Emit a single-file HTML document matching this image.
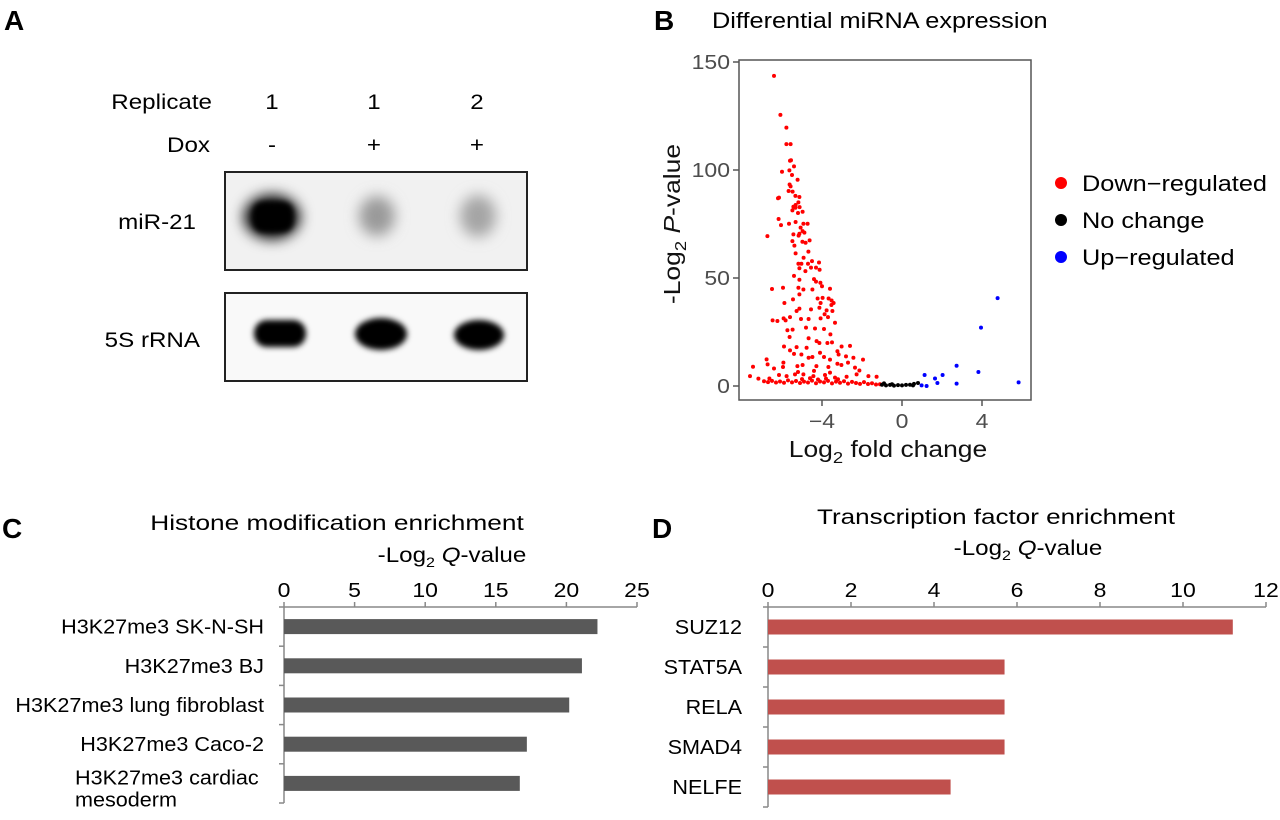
<!DOCTYPE html>
<html><head><meta charset="utf-8"><style>
html,body{margin:0;padding:0;background:#fff;}
svg{display:block;font-family:"Liberation Sans",Arial,sans-serif;}
</style></head><body>
<svg id="fig" width="1280" height="820" viewBox="0 0 1280 820" xmlns="http://www.w3.org/2000/svg">
<defs>
<filter id="blur3" x="-50%" y="-50%" width="200%" height="200%"><feGaussianBlur stdDeviation="3"/></filter>
<filter id="blur6" x="-50%" y="-50%" width="200%" height="200%"><feGaussianBlur stdDeviation="7"/></filter>
</defs>
<!-- Panel A -->
<g>
<text x="4" y="30" font-size="28" font-weight="bold">A</text>
<text x="212" y="109" font-size="21" text-anchor="end">Replicate</text>
<text x="272" y="109" font-size="21" text-anchor="middle">1</text>
<text x="374" y="109" font-size="21" text-anchor="middle">1</text>
<text x="477" y="109" font-size="21" text-anchor="middle">2</text>
<text x="210" y="152" font-size="21" text-anchor="end">Dox</text>
<text x="272" y="152" font-size="21" text-anchor="middle">-</text>
<text x="374" y="152" font-size="21" text-anchor="middle">+</text>
<text x="477" y="152" font-size="21" text-anchor="middle">+</text>
<text x="196" y="229" font-size="21" text-anchor="end">miR-21</text>
<text x="200" y="347" font-size="21" text-anchor="end">5S rRNA</text>
<g>
<rect x="225" y="172" width="302" height="98" fill="#f1f1f1"/>
<ellipse cx="272" cy="217" rx="28" ry="22" fill="#000" filter="url(#blur6)"/>
<rect x="253" y="202" width="40" height="30" rx="10" fill="#000" filter="url(#blur3)"/>
<ellipse cx="377" cy="216" rx="18" ry="20" fill="#9a9a9a" filter="url(#blur6)"/>
<ellipse cx="478" cy="216" rx="18" ry="21" fill="#a5a5a5" filter="url(#blur6)"/>
<rect x="225" y="172" width="302" height="98" fill="none" stroke="#222" stroke-width="2"/>
</g>
<g>
<rect x="225" y="293" width="302" height="88" fill="#f9f9f9"/>
<rect x="254" y="320" width="52" height="27" rx="13" fill="#000" filter="url(#blur3)"/>
<ellipse cx="381" cy="334" rx="26" ry="16" fill="#000" filter="url(#blur3)"/>
<ellipse cx="479" cy="335" rx="25" ry="15" fill="#000" filter="url(#blur3)"/>
<rect x="225" y="293" width="302" height="88" fill="none" stroke="#222" stroke-width="2"/>
</g>
</g>
<!-- Panel B -->
<g id="panelB">
<text x="654" y="30" font-size="28" font-weight="bold">B</text>
<text x="712" y="28" font-size="22">Differential miRNA expression</text>
<rect x="739" y="60" width="292" height="340" fill="none" stroke="#555" stroke-width="1.5"/>
<text transform="translate(680,224) rotate(-90)" font-size="23" text-anchor="middle" fill="#111">-Log<tspan font-size="16" dy="6">2</tspan><tspan dy="-6"> </tspan><tspan font-style="italic">P</tspan>-value</text>
<text x="888" y="457" font-size="23" text-anchor="middle" fill="#111">Log<tspan font-size="16" dy="6">2</tspan><tspan dy="-6"> fold change</tspan></text>
<g>
<circle cx="1061" cy="183" r="6" fill="#ff0000"/>
<text x="1082" y="191" font-size="22">Down−regulated</text>
<circle cx="1061" cy="220" r="6" fill="#000"/>
<text x="1082" y="228" font-size="22">No change</text>
<circle cx="1061" cy="257" r="6" fill="#0000ff"/>
<text x="1082" y="265" font-size="22">Up−regulated</text>
</g>
</g>
<!-- Panel C -->
<g id="panelC">
<text x="2" y="538" font-size="28" font-weight="bold">C</text>
<text x="337" y="530" font-size="21" text-anchor="middle" data-stretch="1.25">Histone modification enrichment</text>
<text x="452" y="562" font-size="21" text-anchor="middle">-Log<tspan font-size="14" dy="5">2</tspan><tspan dy="-5"> </tspan><tspan font-style="italic">Q</tspan>-value</text>
</g>
<!-- Panel D -->
<g id="panelD">
<text x="652" y="538" font-size="28" font-weight="bold">D</text>
<text x="996" y="524" font-size="21" text-anchor="middle" data-stretch="1.24">Transcription factor enrichment</text>
<text x="1028" y="555" font-size="21" text-anchor="middle">-Log<tspan font-size="14" dy="5">2</tspan><tspan dy="-5"> </tspan><tspan font-style="italic">Q</tspan>-value</text>
</g>
</svg>
<script>
// ---- Panel B data ----
const downFC = [-6.4,-6.08,-5.78,-5.78,-5.57,-5.6,-5.55,-5.4,-6.0,-5.63,-5.5,-5.22,-5.62,-5.57,-5.67,-5.47,-5.33,-5.13,-6.2,-6.15,-5.18,-5.32,-5.12,-5.43,-5.33,-5.48,-5.2,-4.97,-6.17,-6.05,-5.65,-5.32,-4.93,-4.72,-5.07,-4.97,-5.13,-4.88,-5.43,-5.17,-4.62,-5.48,-4.98,-4.82,-5.38,-6.73,-4.68,-5.32,-4.92,-4.5,-4.15,-5.18,-5.03,-4.7,-4.55,-4.83,-5.13,-4.3,-4.12,-5.4,-5.13,-4.4,-4.3,-4.08,-4.0,-3.6,-6.5,-5.95,-5.18,-4.93,-4.48,-5.45,-5.13,-4.22,-3.97,-3.67,-3.52,-5.88,-4.07,-3.53,-3.42,-5.13,-4.55,-4.13,-3.77,-3.48,-3.87,-5.27,-5.6,-6.47,-6.23,-5.92,-5.82,-5.05,-4.67,-4.07,-3.7,-5.73,-5.47,-4.8,-4.35,-3.9,-3.35,-3.58,-4.27,-4.13,-3.73,-3.5,-5.62,-4.67,-5.9,-5.27,-5.6,-4.77,-3.02,-2.6,-3.23,-5.4,-5.03,-4.1,-3.17,-2.8,-2.43,-1.95,-6.77,-5.93,-4.67,-4.48,-3.9,-3.6,-3.23,-2.7,-7.45,-6.72,-6.4,-5.95,-5.23,-4.97,-4.28,-3.68,-3.03,-2.35,-2.13,-7.6,-7.18,-6.63,-6.15,-5.77,-5.35,-4.93,-4.43,-3.85,-3.35,-2.77,-2.27,-1.68,-1.27,-6.9,-6.7,-6.5,-6.3,-6.1,-5.9,-5.7,-5.5,-5.3,-5.1,-4.9,-4.7,-4.5,-4.3,-4.1,-3.9,-3.7,-3.5,-3.3,-3.1,-2.9,-2.7,-2.5,-2.3,-2.1,-1.9,-1.7,-1.5,-1.3,-1.1,-5.0,-4.6,-4.2,-3.8,-5.2,-4.4,-3.6,-3.2];
const downP = [143.6,125.5,119.6,112,112,104.3,104.5,101.7,99.2,99.8,97.7,95.5,93.3,92.4,90.3,90,88,87.5,86.9,87.2,85,83.8,82.8,83,82.5,81.3,80.1,80.7,77.3,74.5,75.1,75.9,75.1,75.1,73.3,71.7,70.5,71,70.2,69.6,67.4,67.1,66.8,66.3,65,69.4,62.2,61.4,59.4,57.8,57.2,56.6,56.6,56.6,54.8,53.2,54.5,54.8,53.8,51,49.2,49.5,48.3,47.8,46.2,45,44.9,45.5,45.5,44.7,44.7,40.1,42.4,40.5,40.8,40.5,39.6,38.4,38.4,37.5,38.4,35.8,35.5,36.2,35,34.7,33.2,34.7,31.9,30.4,30.1,31.3,30.4,31,31,31.3,31.9,25.8,26.1,27,26.6,26.4,29.3,23.9,20.8,19.9,19.9,20.2,22.7,22.1,18.3,18,16.5,17.7,18.3,18.6,16.1,14.9,14.6,15.4,14.6,13.7,13.1,12.2,12.3,10.8,13.1,13.4,13.4,12.2,10.3,10.8,8.9,10,8.1,8.8,9.2,9.7,9.2,8.8,9.7,8.5,7.2,4.6,3.4,3.5,5.1,4.6,5.4,5.4,4.6,5.1,3.9,4.3,5.4,4.6,4.3,2.2,1.8,2.4,1.6,2.1,1.5,2.6,1.7,2.3,1.4,2.0,1.6,2.5,1.3,2.1,1.7,2.4,1.2,2.0,1.5,2.2,1.1,1.9,1.4,1.0,1.8,0.9,1.3,0.7,0.8,3.2,3.6,3.0,3.4,6.5,7.0,6.2,3.1];
const noneFC = [-1.0,-0.8,-0.6,-0.4,-0.2,0,0.2,0.4,0.6,0.8,0.55,-0.9,-0.5];
const noneP = [0.6,0.3,0.5,0.2,0.4,0.3,0.5,0.6,1.0,1.4,0.3,1.2,0.8];
const upFC = [1.13,1.65,2.03,2.73,3.82,3.95,4.78,5.83,2.73,1.77,1.23,0.98];
const upP = [5.1,3.5,5.1,9.4,6.5,27,40.7,1.7,1.1,1.4,0,0.3];
const bYTicks = [0,50,100,150];
const bXTicks = [-4,0,4];
const bXTickLabels = ["−4","0","4"];

// ---- Panel C data ----
const histCats = ["H3K27me3 SK-N-SH","H3K27me3 BJ","H3K27me3 lung fibroblast","H3K27me3 Caco-2","H3K27me3 cardiac|mesoderm"];
const histVals = [22.2,21.1,20.2,17.2,16.7];
const histTicks = [0,5,10,15,20,25];

// ---- Panel D data ----
const tfCats = ["SUZ12","STAT5A","RELA","SMAD4","NELFE"];
const tfVals = [11.2,5.7,5.7,5.7,4.4];
const tfTicks = [0,2,4,6,8,10,12];

const NS="http://www.w3.org/2000/svg";
function mk(tag, attrs, parent){const e=document.createElementNS(NS,tag);for(const k in attrs)e.setAttribute(k,attrs[k]);parent.appendChild(e);return e;}

// Panel B
(function(){
  const g=document.getElementById('panelB');
  const xs=v=>902+20*v, ys=v=>386-2.16*v;
  bYTicks.forEach(t=>{
    const l=mk('line',{x1:733,x2:739,y1:ys(t),y2:ys(t),stroke:'#555','stroke-width':1.5},g);
    
    
    const tx=mk('text',{x:730,y:ys(t)+7,'font-size':20,'text-anchor':'end',fill:'#4d4d4d'},g);
    tx.textContent=t;
    
    
  });
  bXTicks.forEach((t,i)=>{
    const l=mk('line',{x1:xs(t),x2:xs(t),y1:400,y2:406,stroke:'#555','stroke-width':1.5},g);
    
    
    const tx=mk('text',{x:xs(t),y:428,'font-size':20,'text-anchor':'middle',fill:'#4d4d4d'},g);
    tx.textContent=bXTickLabels[i];
    
    
  });
  const groups=[[downFC,downP,'#ff0000','down'],[noneFC,noneP,'#000000','nochange'],[upFC,upP,'#0000ff','up']];
  groups.forEach(([fx,py,col,nm])=>{
    fx.forEach((v,i)=>{
      const c=mk('circle',{cx:xs(v),cy:ys(py[i]),r:2,fill:col},g);
      
      
    });
  });
})();

function barChart(gid, cats, vals, ticks, x0, x1, axisY, step, barH, color, labelRight, prefix){
  const g=document.getElementById(gid);
  const max=ticks[ticks.length-1];
  const xs=v=>x0+(x1-x0)*v/max;
  const n=cats.length;
  const bottom=axisY+step*n;
  const ax=mk('line',{x1:x0,x2:x1,y1:axisY,y2:axisY,stroke:'#888','stroke-width':1.5},g);
  
  
  const ay=mk('line',{x1:x0,x2:x0,y1:axisY,y2:bottom,stroke:'#888','stroke-width':1.5},g);
  
  
  ticks.forEach(t=>{
    const l=mk('line',{x1:xs(t),x2:xs(t),y1:axisY-5,y2:axisY,stroke:'#888','stroke-width':1.5},g);
    
    
    const tx=mk('text',{x:xs(t),y:axisY-10,'font-size':20,'text-anchor':'middle'},g);
    tx.textContent=t;
    
    
  });
  for(let i=0;i<=n;i++){
    const l=mk('line',{x1:x0-5,x2:x0,y1:axisY+step*i,y2:axisY+step*i,stroke:'#888','stroke-width':1.5},g);
    
    
  }
  cats.forEach((c,i)=>{
    const cy=axisY+step*(i+0.5);
    const r=mk('rect',{x:x0,y:cy-barH/2,width:xs(vals[i])-x0,height:barH,fill:color},g);
    
    
    const parts=c.split('|');
    if(parts.length>1){
      const t1=mk('text',{x:75,y:cy+1,'font-size':20,'data-stretch':'1.08'},g);t1.textContent=parts[0];
      
      
      const t2=mk('text',{x:75,y:cy+23,'font-size':20,'data-stretch':'1.08'},g);t2.textContent=parts[1];
      
      
    } else {
      const tx=mk('text',{x:labelRight,y:cy+7,'font-size':20,'text-anchor':'end','data-stretch':'1.08'},g);
      tx.textContent=c;
      
      
    }
  });
}
barChart('panelC',histCats,histVals,histTicks,284,637,607,39.2,15,'#595959',264,'histone');
barChart('panelD',tfCats,tfVals,tfTicks,768,1266,607,40,15,'#c0504d',742,'tf');

// horizontal stretch to match the wider glyph proportions of the reference
document.querySelectorAll('#fig text').forEach(t=>{
  const fs=parseFloat(t.getAttribute('font-size')||0);
  if(fs>=26) return;
  const f=parseFloat(t.getAttribute('data-stretch')||'1.15');
  const w=t.getComputedTextLength();
  if(w>0){t.setAttribute('textLength',(w*f).toFixed(1));t.setAttribute('lengthAdjust','spacingAndGlyphs');}
});
</script>
</body></html>
